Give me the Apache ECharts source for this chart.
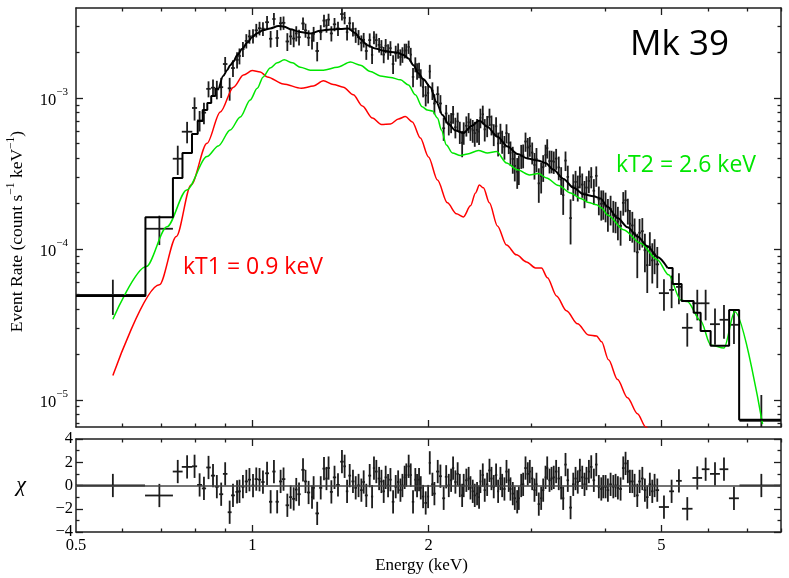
<!DOCTYPE html>
<html>
<head>
<meta charset="utf-8">
<title>Mk 39</title>
<script src="https://cdn.jsdelivr.net/npm/echarts@6.0.0/dist/echarts.min.js"></script>
<style>
  html, body { margin: 0; padding: 0; background: #fff; }
  #chart { width: 789px; height: 578px; }
</style>
</head>
<body>
<div id="chart"></div>
<script>
// axis ranges and ticks
const energyRange = [0.5, 8.0];
const rateRange = [6.6e-6, 3.95e-3];
const chiRange = [-4, 4];
const xMajorTicks = [1, 2, 5];
const xMinorTicks = [0.6, 0.7, 0.8, 0.9, 3, 4, 6, 7, 8];
const xTickLabels = [0.5, 1, 2, 5];
const yMajorExp = [-5, -4, -3];
const chiMajorTicks = [-4, -2, 0, 2, 4];
const chiMinorTicks = [-3, -1, 1, 3];

// data bins (keV), rates (count s-1 keV-1), errors, residuals
const binEnergy = [
  0.578, 0.694, 0.746, 0.774, 0.797, 0.813, 0.827, 0.842, 0.857, 0.870,
  0.885, 0.899, 0.915, 0.927, 0.942, 0.951, 0.964, 0.977, 0.989, 1.003,
  1.016, 1.029, 1.043, 1.060, 1.075, 1.089, 1.103, 1.118, 1.131, 1.148,
  1.163, 1.177, 1.189, 1.202, 1.221, 1.233, 1.248, 1.265, 1.273, 1.291,
  1.309, 1.326, 1.339, 1.350, 1.365, 1.382, 1.401, 1.423, 1.438, 1.452,
  1.467, 1.486, 1.502, 1.519, 1.536, 1.550, 1.566, 1.587, 1.602, 1.614,
  1.629, 1.647, 1.662, 1.677, 1.690, 1.706, 1.722, 1.740, 1.758, 1.775,
  1.791, 1.805, 1.821, 1.833, 1.850, 1.865, 1.882, 1.899, 1.912, 1.927,
  1.940, 1.958, 1.978, 1.997, 2.010, 2.031, 2.047, 2.074, 2.096, 2.123,
  2.144, 2.166, 2.186, 2.203, 2.223, 2.243, 2.262, 2.283, 2.297, 2.321,
  2.342, 2.359, 2.380, 2.399, 2.421, 2.440, 2.453, 2.476, 2.495, 2.519,
  2.542, 2.562, 2.585, 2.609, 2.630, 2.654, 2.672, 2.696, 2.718, 2.742,
  2.761, 2.786, 2.808, 2.835, 2.853, 2.880, 2.902, 2.929, 2.955, 2.979,
  3.007, 3.034, 3.058, 3.086, 3.115, 3.140, 3.169, 3.190, 3.219, 3.245,
  3.273, 3.304, 3.338, 3.370, 3.397, 3.428, 3.459, 3.497, 3.534, 3.566,
  3.597, 3.627, 3.661, 3.694, 3.723, 3.758, 3.793, 3.832, 3.869, 3.908,
  3.946, 3.977, 4.013, 4.050, 4.093, 4.137, 4.174, 4.212, 4.257, 4.302,
  4.341, 4.380, 4.416, 4.458, 4.498, 4.546, 4.587, 4.637, 4.684, 4.728,
  4.776, 4.822, 4.866, 4.918, 5.049, 5.203, 5.355, 5.534, 5.756, 5.948,
  6.171, 6.393, 6.649, 7.405
];
const binHalfWidth = [
  0.078, 0.038, 0.0145, 0.016, 0.008, 0.008, 0.007, 0.0075, 0.007, 0.007,
  0.007, 0.008, 0.007, 0.007, 0.006, 0.005, 0.006, 0.006, 0.006, 0.006,
  0.0065, 0.0065, 0.007, 0.008, 0.007, 0.007, 0.007, 0.007, 0.008, 0.008,
  0.007, 0.007, 0.006, 0.008, 0.008, 0.007, 0.008, 0.005, 0.006, 0.009,
  0.008, 0.008, 0.006, 0.007, 0.008, 0.009, 0.01, 0.01, 0.007, 0.007,
  0.008, 0.009, 0.008, 0.009, 0.008, 0.008, 0.009, 0.009, 0.007, 0.007,
  0.008, 0.009, 0.008, 0.008, 0.007, 0.008, 0.008, 0.009, 0.009, 0.008,
  0.008, 0.008, 0.007, 0.007, 0.008, 0.008, 0.009, 0.007, 0.007, 0.007,
  0.007, 0.009, 0.01, 0.008, 0.008, 0.01, 0.01, 0.013, 0.012, 0.012,
  0.011, 0.011, 0.01, 0.01, 0.01, 0.01, 0.01, 0.01, 0.009, 0.011,
  0.01, 0.01, 0.01, 0.01, 0.011, 0.008, 0.009, 0.011, 0.011, 0.012,
  0.012, 0.011, 0.012, 0.012, 0.011, 0.011, 0.011, 0.012, 0.012, 0.011,
  0.011, 0.012, 0.013, 0.012, 0.011, 0.013, 0.013, 0.014, 0.013, 0.013,
  0.014, 0.013, 0.013, 0.014, 0.014, 0.014, 0.012, 0.013, 0.014, 0.014,
  0.014, 0.016, 0.016, 0.015, 0.015, 0.016, 0.017, 0.018, 0.017, 0.016,
  0.016, 0.016, 0.017, 0.016, 0.017, 0.017, 0.018, 0.019, 0.019, 0.019,
  0.018, 0.017, 0.019, 0.02, 0.021, 0.021, 0.02, 0.021, 0.023, 0.022,
  0.02, 0.02, 0.02, 0.022, 0.023, 0.024, 0.023, 0.025, 0.024, 0.023,
  0.024, 0.023, 0.024, 0.035, 0.10, 0.05, 0.06, 0.115, 0.11, 0.09,
  0.12, 0.11, 0.13, 0.61
];
const binRate = [
  4.95e-5, 1.36e-4, 3.96e-4, 5.98e-4, 8.59e-4, 7.10e-4, 8.00e-4, 1.15e-3, 1.17e-3, 1.14e-3,
  1.18e-3, 1.68e-3, 1.16e-3, 1.58e-3, 1.79e-3, 1.90e-3, 2.11e-3, 2.39e-3, 2.56e-3, 2.58e-3,
  2.81e-3, 2.90e-3, 2.88e-3, 3.18e-3, 2.47e-3, 3.34e-3, 2.50e-3, 3.13e-3, 3.15e-3, 2.37e-3,
  2.56e-3, 2.48e-3, 2.68e-3, 2.53e-3, 3.12e-3, 2.81e-3, 2.51e-3, 2.40e-3, 2.66e-3, 2.05e-3,
  2.73e-3, 3.26e-3, 3.02e-3, 3.31e-3, 2.68e-3, 3.08e-3, 2.89e-3, 3.60e-3, 3.40e-3, 2.73e-3,
  3.13e-3, 2.87e-3, 2.62e-3, 2.53e-3, 2.32e-3, 2.43e-3, 2.05e-3, 2.42e-3, 1.93e-3, 2.52e-3,
  2.42e-3, 2.25e-3, 2.17e-3, 1.94e-3, 2.22e-3, 2.03e-3, 2.14e-3, 1.68e-3, 1.98e-3, 2.06e-3,
  1.87e-3, 1.94e-3, 2.06e-3, 2.07e-3, 2.18e-3, 1.94e-3, 1.38e-3, 1.67e-3, 1.51e-3, 1.53e-3,
  1.37e-3, 1.18e-3, 1.04e-3, 1.08e-3, 1.50e-3, 1.12e-3, 9.20e-4, 1.06e-3, 9.20e-4, 6.30e-4,
  7.90e-4, 6.70e-4, 6.90e-4, 7.80e-4, 6.40e-4, 7.00e-4, 5.96e-4, 5.05e-4, 5.90e-4, 6.55e-4,
  6.90e-4, 6.25e-4, 6.10e-4, 5.85e-4, 6.15e-4, 5.98e-4, 7.40e-4, 7.80e-4, 6.20e-4, 6.55e-4,
  7.50e-4, 6.65e-4, 5.75e-4, 6.50e-4, 5.00e-4, 5.85e-4, 5.17e-4, 4.75e-4, 5.85e-4, 5.05e-4,
  4.35e-4, 3.95e-4, 3.55e-4, 3.25e-4, 3.40e-4, 4.14e-4, 4.17e-4, 5.15e-4, 4.70e-4, 4.80e-4,
  4.35e-4, 3.60e-4, 3.94e-4, 2.72e-4, 3.03e-4, 3.48e-4, 4.20e-4, 4.65e-4, 3.82e-4, 3.82e-4,
  3.78e-4, 3.97e-4, 3.47e-4, 2.88e-4, 2.27e-4, 3.85e-4, 3.00e-4, 1.60e-4, 2.60e-4, 2.78e-4,
  2.56e-4, 3.02e-4, 2.67e-4, 2.34e-4, 2.55e-4, 2.82e-4, 3.00e-4, 2.43e-4, 3.05e-4, 2.13e-4,
  1.99e-4, 2.00e-4, 1.93e-4, 1.72e-4, 1.84e-4, 1.68e-4, 1.66e-4, 1.52e-4, 1.42e-4, 2.02e-4,
  2.10e-4, 1.80e-4, 1.47e-4, 1.43e-4, 1.27e-4, 9.50e-5, 1.28e-4, 1.31e-4, 9.80e-5, 7.80e-5,
  1.03e-4, 8.40e-5, 9.20e-5, 7.90e-5, 5.09e-5, 5.35e-5, 5.60e-5, 3.00e-5, 4.36e-5, 4.36e-5,
  3.17e-5, 3.39e-5, 3.14e-5, 7.26e-6
];
const binRateErr = [
  1.3e-5, 3.0e-5, 8.7e-5, 9.7e-5, 1.5e-4, 1.1e-4, 1.3e-4, 1.4e-4, 1.55e-4, 1.6e-4,
  1.8e-4, 1.9e-4, 2.0e-4, 2.0e-4, 2.2e-4, 2.3e-4, 2.4e-4, 2.6e-4, 2.7e-4, 2.8e-4,
  2.9e-4, 3.0e-4, 3.0e-4, 3.1e-4, 3.1e-4, 3.2e-4, 3.2e-4, 3.2e-4, 3.2e-4, 3.2e-4,
  3.1e-4, 3.1e-4, 3.1e-4, 3.0e-4, 3.0e-4, 3.0e-4, 3.0e-4, 3.0e-4, 3.0e-4, 3.0e-4,
  3.1e-4, 3.1e-4, 3.1e-4, 3.1e-4, 3.1e-4, 3.1e-4, 3.1e-4, 3.4e-4, 3.2e-4, 3.2e-4,
  3.2e-4, 3.1e-4, 3.0e-4, 2.9e-4, 2.8e-4, 2.7e-4, 2.6e-4, 2.6e-4, 2.5e-4, 2.5e-4,
  2.5e-4, 2.5e-4, 2.5e-4, 2.4e-4, 2.4e-4, 2.4e-4, 2.4e-4, 2.4e-4, 2.4e-4, 2.4e-4,
  2.3e-4, 2.3e-4, 2.3e-4, 2.2e-4, 2.2e-4, 2.1e-4, 2.0e-4, 1.9e-4, 1.9e-4, 1.8e-4,
  1.8e-4, 1.7e-4, 1.6e-4, 1.6e-4, 1.6e-4, 1.5e-4, 1.4e-4, 1.35e-4, 1.25e-4, 1.1e-4,
  1.1e-4, 1.05e-4, 1.05e-4, 1.05e-4, 1.0e-4, 1.0e-4, 1.0e-4, 1.0e-4, 1.0e-4, 1.0e-4,
  1.05e-4, 1.05e-4, 1.05e-4, 1.1e-4, 1.1e-4, 1.1e-4, 1.1e-4, 1.1e-4, 1.05e-4, 1.05e-4,
  1.0e-4, 1.0e-4, 9.5e-5, 9.5e-5, 9.0e-5, 9.0e-5, 9.0e-5, 8.5e-5, 8.5e-5, 8.0e-5,
  8.0e-5, 8.0e-5, 7.5e-5, 7.5e-5, 7.5e-5, 7.5e-5, 7.5e-5, 7.5e-5, 7.3e-5, 7.2e-5,
  7.2e-5, 7.2e-5, 7.2e-5, 7.0e-5, 7.0e-5, 7.0e-5, 7.0e-5, 6.8e-5, 6.6e-5, 6.5e-5,
  6.4e-5, 6.3e-5, 6.2e-5, 6.0e-5, 5.9e-5, 5.7e-5, 5.6e-5, 5.3e-5, 5.2e-5, 5.1e-5,
  5.0e-5, 5.0e-5, 4.9e-5, 4.8e-5, 4.8e-5, 4.8e-5, 4.8e-5, 4.7e-5, 4.7e-5, 4.6e-5,
  4.5e-5, 4.4e-5, 4.3e-5, 4.2e-5, 4.1e-5, 4.0e-5, 3.9e-5, 3.8e-5, 3.7e-5, 3.6e-5,
  3.5e-5, 3.5e-5, 3.4e-5, 3.3e-5, 3.2e-5, 3.1e-5, 3.0e-5, 2.9e-5, 2.8e-5, 2.7e-5,
  2.6e-5, 2.5e-5, 2.4e-5, 2.4e-5, 1.2e-5, 1.3e-5, 1.3e-5, 7.5e-6, 1.0e-5, 1.0e-5,
  8.5e-6, 8.5e-6, 8.0e-6, 3.5e-6
];
const binChi = [
  0.0, -0.86, 1.2, 1.6, 1.65, 0.05, -0.25, 1.55, 0.85, -0.1,
  -0.75, 1.0, -2.3, -0.85, -0.55, -0.5, -0.1, 0.35, 0.5, 0.0,
  0.55, 0.5, 0.3, 1.05, -1.4, 1.2, -1.4, 0.35, 0.55, -1.7,
  -1.0, -1.15, -0.35, -0.75, 1.35, 0.35, -0.6, -1.0, -0.2, -2.4,
  -0.2, 1.45, 0.6, 1.5, -0.55, 0.7, 0.05, 2.05, 1.65, -0.5,
  0.85, 0.35, -0.2, 0.0, -0.4, 0.3, -0.85, 0.85, -0.95, 1.5,
  1.2, 0.6, 0.35, -0.5, 0.7, 0.0, 0.5, -1.4, -0.1, 0.3,
  -0.4, 0.0, 0.7, 0.9, 1.65, 0.9, -1.4, 0.5, 0.0, 0.5,
  -0.2, -0.95, -1.5, -0.95, 1.95, 0.1, -0.7, 1.2, 0.8, -1.1,
  0.75, 0.0, 0.45, 1.5, 0.3, 1.0, 0.0, -0.85, 0.0, 0.45,
  0.6, -0.2, -0.5, -0.85, -0.7, -1.0, 0.35, 0.9, -0.4, 0.1,
  1.3, 0.6, -0.1, 0.9, -0.5, 0.6, 0.0, -0.3, 1.2, 0.45,
  -0.3, -0.7, -1.1, -1.4, -1.1, 0.0, 0.1, 1.5, 1.0, 1.2,
  0.6, -0.4, 0.1, -1.6, -1.1, -0.4, 0.7, 1.5, 0.45, 0.6,
  0.7, 1.2, 0.6, -0.2, -1.1, 1.8, 0.45, -1.9, 0.1, 0.6,
  0.3, 1.3, 0.7, 0.1, 0.6, 1.2, 1.6, 0.45, 1.8, -0.1,
  -0.3, -0.1, -0.1, -0.4, 0.1, -0.1, 0.0, -0.2, -0.3, 1.5,
  1.9, 1.2, 0.35, 0.35, 0.0, -0.85, 0.35, 0.6, -0.4, -1.0,
  0.1, -0.5, 0.0, -0.4, -1.85, -0.5, 0.4, -2.0, 0.65, 1.4,
  1.0, 1.4, -1.1, 0.0
];

// total model: binned at low / high energy, fine bins in between
const modelLowEdges = [0.5, 0.657, 0.732, 0.760, 0.789, 0.807, 0.823, 0.838, 0.851, 0.865, 0.878];
const modelLowRate = [4.88e-5, 1.62e-4, 2.95e-4, 4.32e-4, 5.78e-4, 7.04e-4, 8.33e-4, 9.27e-4, 1.03e-3, 1.15e-3];
const modelCurveEnergy = [
  0.878, 0.892, 0.906, 0.917, 0.928, 0.943, 0.961, 0.981, 1.0, 1.020,
  1.044, 1.073, 1.108, 1.134, 1.161, 1.208, 1.256, 1.307, 1.359, 1.414,
  1.459, 1.500, 1.530, 1.573, 1.623, 1.675, 1.722, 1.769, 1.812, 1.848,
  1.885, 1.922, 1.960, 2.015, 2.063, 2.113, 2.163, 2.223, 2.295, 2.368,
  2.443, 2.522, 2.623, 2.729, 2.838, 2.952, 3.071, 3.169, 3.270, 3.401,
  3.538, 3.680, 3.827, 3.935, 4.045, 4.207, 4.375, 4.550, 4.733, 4.923,
  5.122
];
const modelCurveRate = [
  1.16e-3, 1.40e-3, 1.53e-3, 1.65e-3, 1.74e-3, 1.93e-3, 2.11e-3, 2.33e-3, 2.54e-3, 2.69e-3,
  2.82e-3, 2.89e-3, 3.00e-3, 2.97e-3, 2.86e-3, 2.74e-3, 2.68e-3, 2.79e-3, 2.85e-3, 2.87e-3,
  2.89e-3, 2.69e-3, 2.46e-3, 2.24e-3, 2.13e-3, 2.06e-3, 2.02e-3, 2.00e-3, 1.93e-3, 1.83e-3,
  1.65e-3, 1.46e-3, 1.33e-3, 1.18e-3, 9.41e-4, 7.72e-4, 6.73e-4, 6.09e-4, 5.86e-4, 6.53e-4,
  7.10e-4, 6.43e-4, 5.54e-4, 4.77e-4, 4.26e-4, 3.97e-4, 3.86e-4, 3.71e-4, 3.34e-4, 2.91e-4,
  2.54e-4, 2.30e-4, 2.23e-4, 2.16e-4, 1.90e-4, 1.60e-4, 1.39e-4, 1.21e-4, 1.04e-4, 8.85e-5,
  7.48e-5
];
const modelHighEdges = [5.122, 5.224, 5.412, 5.674, 5.832, 6.066, 6.524, 6.786, 8.0];
const modelHighRate = [7.48e-5, 5.86e-5, 4.52e-5, 3.77e-5, 2.86e-5, 2.28e-5, 3.94e-5, 7.37e-6];

// kT1 = 0.9 keV component (red)
const kT1Energy = [
  0.578, 0.694, 0.742, 0.786, 0.837, 0.882, 0.929, 0.966, 1.0, 1.032,
  1.061, 1.130, 1.213, 1.272, 1.323, 1.375, 1.431, 1.488, 1.542, 1.604,
  1.662, 1.722, 1.777, 1.826, 1.877, 1.937, 2.000, 2.072, 2.154, 2.232,
  2.295, 2.359, 2.406, 2.443, 2.482, 2.541, 2.623, 2.718, 2.827, 2.940,
  3.046, 3.119, 3.193, 3.309, 3.441, 3.594, 3.753, 3.873, 3.951, 4.060,
  4.207, 4.375, 4.550, 4.697, 4.80
];
const kT1Rate = [
  1.45e-5, 5.78e-5, 1.21e-4, 2.65e-4, 5.01e-4, 8.08e-4, 1.18e-3, 1.42e-3, 1.52e-3, 1.49e-3,
  1.38e-3, 1.24e-3, 1.16e-3, 1.20e-3, 1.30e-3, 1.23e-3, 1.18e-3, 1.05e-3, 8.85e-4, 7.37e-4,
  6.68e-4, 6.73e-4, 7.26e-4, 7.54e-4, 6.94e-4, 5.43e-4, 4.07e-4, 2.86e-4, 2.02e-4, 1.71e-4,
  1.63e-4, 1.93e-4, 2.35e-4, 2.65e-4, 2.54e-4, 2.02e-4, 1.42e-4, 1.06e-4, 9.13e-5, 8.20e-5,
  7.48e-5, 7.48e-5, 6.43e-5, 4.88e-5, 3.89e-5, 3.19e-5, 2.69e-5, 2.65e-5, 2.42e-5, 1.84e-5,
  1.36e-5, 1.03e-5, 8.08e-6, 6.63e-6, 5.8e-6
];

// kT2 = 2.6 keV component (green)
const kT2Energy = [
  0.578, 0.659, 0.715, 0.773, 0.837, 0.875, 0.917, 0.954, 0.992, 1.020,
  1.044, 1.073, 1.103, 1.134, 1.171, 1.208, 1.256, 1.323, 1.398, 1.471,
  1.530, 1.591, 1.655, 1.722, 1.791, 1.848, 1.899, 1.950, 1.991, 2.031,
  2.072, 2.104, 2.146, 2.197, 2.268, 2.331, 2.434, 2.522, 2.613, 2.718,
  2.838, 2.975, 3.083, 3.181, 3.335, 3.497, 3.637, 3.753, 3.873, 3.951,
  4.045, 4.307, 4.606, 4.918, 5.143, 5.391, 5.534, 5.832, 6.066, 6.393,
  6.668, 7.44
];
const kT2Rate = [
  3.42e-5, 7.63e-5, 1.40e-4, 2.46e-4, 4.09e-4, 4.81e-4, 6.14e-4, 7.48e-4, 9.70e-4, 1.16e-3,
  1.38e-3, 1.58e-3, 1.71e-3, 1.79e-3, 1.71e-3, 1.60e-3, 1.53e-3, 1.53e-3, 1.60e-3, 1.73e-3,
  1.65e-3, 1.50e-3, 1.40e-3, 1.37e-3, 1.32e-3, 1.22e-3, 1.05e-3, 8.76e-4, 8.33e-4, 8.20e-4,
  7.37e-4, 6.14e-4, 4.88e-4, 4.32e-4, 4.16e-4, 4.26e-4, 4.49e-4, 4.32e-4, 4.42e-4, 3.71e-4,
  3.34e-4, 3.09e-4, 3.16e-4, 2.95e-4, 2.63e-4, 2.35e-4, 2.16e-4, 2.03e-4, 1.96e-4, 1.87e-4,
  1.68e-4, 1.34e-4, 1.09e-4, 8.46e-5, 6.73e-5, 4.59e-5, 4.48e-5, 3.34e-5, 2.31e-5, 2.20e-5,
  3.84e-5, 6.9e-6
];

// ---- chart ----
const lg = Math.log10;
const SERIF = '"Liberation Serif", "DejaVu Serif", serif';
const SANS = '"Open Sans", "Noto Sans", sans-serif';
const FRAME = '#1e1e1e';
const RED = '#ff0000';
const GREEN = '#00e600';

const spectrumData = binEnergy.map((e, i) => [
  lg(e), lg(binRate[i]),
  lg(e - binHalfWidth[i]), lg(e + binHalfWidth[i]),
  lg(binRate[i] - binRateErr[i]), lg(binRate[i] + binRateErr[i])
]);
const residualData = binEnergy.map((e, i) => [
  lg(e), binChi[i],
  lg(e - binHalfWidth[i]), lg(e + binHalfWidth[i]),
  binChi[i] - 1, binChi[i] + 1
]);

function stepPoints(edges, rates) {
  const pts = [];
  rates.forEach((r, i) => {
    pts.push([lg(edges[i]), lg(r)], [lg(edges[i + 1]), lg(r)]);
  });
  return pts;
}
const curvePoints = (xs, ys) => xs.map((e, i) => [lg(e), lg(ys[i])]);

const yMinorTicks = [];
[-6, -5, -4, -3].forEach(d => {
  for (let k = 2; k <= 9; k++) {
    const v = k * Math.pow(10, d);
    if (v > rateRange[0] && v < rateRange[1]) yMinorTicks.push(lg(v));
  }
});

function errorCross(params, api) {
  const c = api.coord([api.value(0), api.value(1)]);
  const lo = api.coord([api.value(2), api.value(4)]);
  const hi = api.coord([api.value(3), api.value(5)]);
  const style = { stroke: '#1c1c1c', lineWidth: 1.8 };
  return {
    type: 'group',
    children: [
      { type: 'line', shape: { x1: lo[0], y1: c[1], x2: hi[0], y2: c[1] }, style: style },
      { type: 'line', shape: { x1: c[0], y1: lo[1], x2: c[0], y2: hi[1] }, style: style }
    ]
  };
}

function axisBase(extra) {
  return Object.assign({
    type: 'value',
    splitLine: { show: false },
    axisLabel: { show: false },
    axisLine: { show: true, onZero: false, lineStyle: { color: FRAME, width: 1.5 } }
  }, extra);
}
function tickSet(values, len) {
  return { show: true, inside: true, length: len, customValues: values, lineStyle: { color: FRAME, width: 1.3 } };
}

const xMin = lg(energyRange[0]), xMax = lg(energyRange[1]);
const majX = xMajorTicks.map(lg), minX = xMinorTicks.map(lg);
const xAxes = [];
[0, 1].forEach(g => {
  ['bottom', 'top'].forEach(pos => {
    xAxes.push(axisBase({ gridIndex: g, position: pos, min: xMin, max: xMax, axisTick: tickSet(majX, 7) }));
    xAxes.push(axisBase({ gridIndex: g, position: pos, min: xMin, max: xMax, axisTick: tickSet(minX, 3.5),
      axisLine: { show: false, onZero: false } }));
  });
});
// energy labels on the lower panel
Object.assign(xAxes[4], {
  axisLabel: {
    show: true, customValues: xTickLabels.map(lg), margin: 5,
    formatter: v => String(+Math.pow(10, v).toFixed(2)),
    fontFamily: SERIF, fontSize: 16.5, color: '#000'
  },
  name: 'Energy (keV)', nameLocation: 'middle', nameGap: 25,
  nameTextStyle: { fontFamily: SERIF, fontSize: 17, color: '#000', padding: [0, 14, 0, 0] }
});

const yMin = lg(rateRange[0]), yMax = lg(rateRange[1]);
const yAxes = [];
['left', 'right'].forEach(pos => {
  yAxes.push(axisBase({ gridIndex: 0, position: pos, min: yMin, max: yMax, axisTick: tickSet(yMajorExp, 7) }));
  yAxes.push(axisBase({ gridIndex: 0, position: pos, min: yMin, max: yMax, axisTick: tickSet(yMinorTicks, 3.5),
    axisLine: { show: false, onZero: false } }));
});
['left', 'right'].forEach(pos => {
  yAxes.push(axisBase({ gridIndex: 1, position: pos, min: chiRange[0], max: chiRange[1], axisTick: tickSet(chiMajorTicks, 7) }));
  yAxes.push(axisBase({ gridIndex: 1, position: pos, min: chiRange[0], max: chiRange[1], axisTick: tickSet(chiMinorTicks, 3.5),
    axisLine: { show: false, onZero: false } }));
});
Object.assign(yAxes[0], {
  axisLabel: {
    show: true, customValues: yMajorExp, margin: 8,
    formatter: v => '{b|10}{s|\u2212' + Math.abs(Math.round(v)) + '}',
    rich: {
      b: { fontFamily: SERIF, fontSize: 16.5, color: '#000', lineHeight: 22, verticalAlign: 'bottom' },
      s: { fontFamily: SERIF, fontSize: 11, color: '#000', lineHeight: 13, verticalAlign: 'top' }
    }
  },
  name: '{a|Event Rate (count s}{s|\u22121}{a| keV}{s|\u22121}{a|)}',
  nameLocation: 'middle', nameGap: 50, nameRotate: 90,
  nameTextStyle: {
    padding: [0, 28, 0, 0],
    rich: {
      a: { fontFamily: SERIF, fontSize: 17.5, color: '#000', lineHeight: 21, verticalAlign: 'bottom' },
      s: { fontFamily: SERIF, fontSize: 11.5, color: '#000', lineHeight: 12, verticalAlign: 'top' }
    }
  }
});
Object.assign(yAxes[4], {
  axisLabel: {
    show: true, customValues: chiMajorTicks, margin: 3,
    formatter: v => (v < 0 ? '\u2212' + (-v) : String(v)),
    fontFamily: SERIF, fontSize: 16.5, color: '#000'
  },
  name: '\u03c7', nameLocation: 'middle', nameGap: 50, nameRotate: 0,
  nameTextStyle: { fontFamily: SERIF, fontStyle: 'italic', fontSize: 22, color: '#000' }
});

const chart = echarts.init(document.getElementById('chart'), null, { renderer: 'canvas' });
chart.setOption({
  animation: false,
  backgroundColor: '#fff',
  grid: [
    { left: 76, top: 8, width: 705, height: 419, outerBoundsMode: 'none' },
    { left: 76, top: 439, width: 705, height: 93, outerBoundsMode: 'none' }
  ],
  xAxis: xAxes,
  yAxis: yAxes,
  graphic: [
    { type: 'text', x: 630, y: 45, style: { text: 'Mk 39', font: '35px ' + SANS, fill: '#000', textAlign: 'left', textVerticalAlign: 'middle' } },
    { type: 'text', x: 616, y: 165, style: { text: 'kT2 = 2.6 keV', font: '23px ' + SANS, fill: GREEN, textAlign: 'left', textVerticalAlign: 'middle' } },
    { type: 'text', x: 183, y: 267, style: { text: 'kT1 = 0.9 keV', font: '23px ' + SANS, fill: RED, textAlign: 'left', textVerticalAlign: 'middle' } }
  ],
  series: [
    {
      name: 'data', type: 'custom', xAxisIndex: 0, yAxisIndex: 0, clip: true,
      renderItem: errorCross, encode: { x: [0, 2, 3], y: [1, 4, 5] }, data: spectrumData, z: 2
    },
    {
      name: 'model low', type: 'line', xAxisIndex: 0, yAxisIndex: 0, data: stepPoints(modelLowEdges, modelLowRate),
      showSymbol: false, lineStyle: { color: '#000', width: 2 }, z: 4
    },
    {
      name: 'model', type: 'line', xAxisIndex: 0, yAxisIndex: 0, data: curvePoints(modelCurveEnergy, modelCurveRate),
      showSymbol: false, smooth: 0.3, smoothMonotone: 'x', lineStyle: { color: '#000', width: 2 }, z: 4
    },
    {
      name: 'model high', type: 'line', xAxisIndex: 0, yAxisIndex: 0, data: stepPoints(modelHighEdges, modelHighRate),
      showSymbol: false, lineStyle: { color: '#000', width: 2 }, z: 4
    },
    {
      name: 'kT1', type: 'line', xAxisIndex: 0, yAxisIndex: 0, data: curvePoints(kT1Energy, kT1Rate),
      showSymbol: false, smooth: 0.3, smoothMonotone: 'x', lineStyle: { color: RED, width: 1.5 }, z: 3
    },
    {
      name: 'kT2', type: 'line', xAxisIndex: 0, yAxisIndex: 0, data: curvePoints(kT2Energy, kT2Rate),
      showSymbol: false, smooth: 0.3, smoothMonotone: 'x', lineStyle: { color: GREEN, width: 1.5 }, z: 3
    },
    {
      name: 'residuals', type: 'custom', xAxisIndex: 4, yAxisIndex: 4, clip: true,
      renderItem: errorCross, encode: { x: [0, 2, 3], y: [1, 4, 5] }, data: residualData, z: 3,
      markLine: {
        silent: true, symbol: 'none', label: { show: false },
        lineStyle: { color: '#444', width: 1.5, type: 'solid' },
        data: [{ yAxis: 0 }]
      }
    }
  ]
});
</script>
</body>
</html>
